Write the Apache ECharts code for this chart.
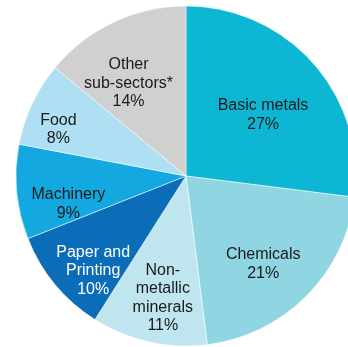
<!DOCTYPE html>
<html>
<head>
<meta charset="utf-8">
<script src="https://cdn.jsdelivr.net/npm/echarts@6/dist/echarts.min.js"></script>
<style>
  html, body { margin: 0; padding: 0; background: #fff; }
  #chart { width: 348px; height: 347px; }
</style>
</head>
<body>
<div id="chart"></div>
<script>
// sub-sector names (clockwise from 12 o'clock) and their shares in %
const sectors = ['Basic metals', 'Chemicals', 'Non-\nmetallic\nminerals', 'Paper and\nPrinting', 'Machinery', 'Food', 'Other\nsub-sectors*'];
const shares = [27, 21, 11, 10, 9, 8, 14];
const colors = ['#0db7d4', '#8fd5e2', '#bfe6ee', '#0b6db7', '#13a9e0', '#aedff3', '#d0d0d0'];

// label nudges from the default "inside" spot, to sit like the original
const labelNudge = [[11, -2.5], [15, 26], [-4, 36], [-25, 39], [-30, 20], [-48, -9], [-20, -13]];

const chart = echarts.init(document.getElementById('chart'));

const data = sectors.map((name, i) => ({
  name: name,
  value: shares[i],
  itemStyle: { color: colors[i] },
  label: {
    offset: labelNudge[i],
    color: i === 3 ? '#ffffff' : '#1a1a1a'
  }
}));

chart.setOption({
  animation: false,
  series: [
    {
      type: 'pie',
      center: [186, 176],
      radius: [0, 170],
      startAngle: 90,
      clockwise: true,
      itemStyle: { borderColor: '#ffffff', borderWidth: 0.5 },
      label: {
        show: true,
        position: 'inside',
        formatter: '{b}\n{c}%',
        fontFamily: 'Liberation Sans, Arial, sans-serif',
        fontSize: 16,
        lineHeight: 18.5,
        align: 'center'
      },
      labelLine: { show: false },
      emphasis: { disabled: true },
      data: data
    }
  ]
});
</script>
</body>
</html>
